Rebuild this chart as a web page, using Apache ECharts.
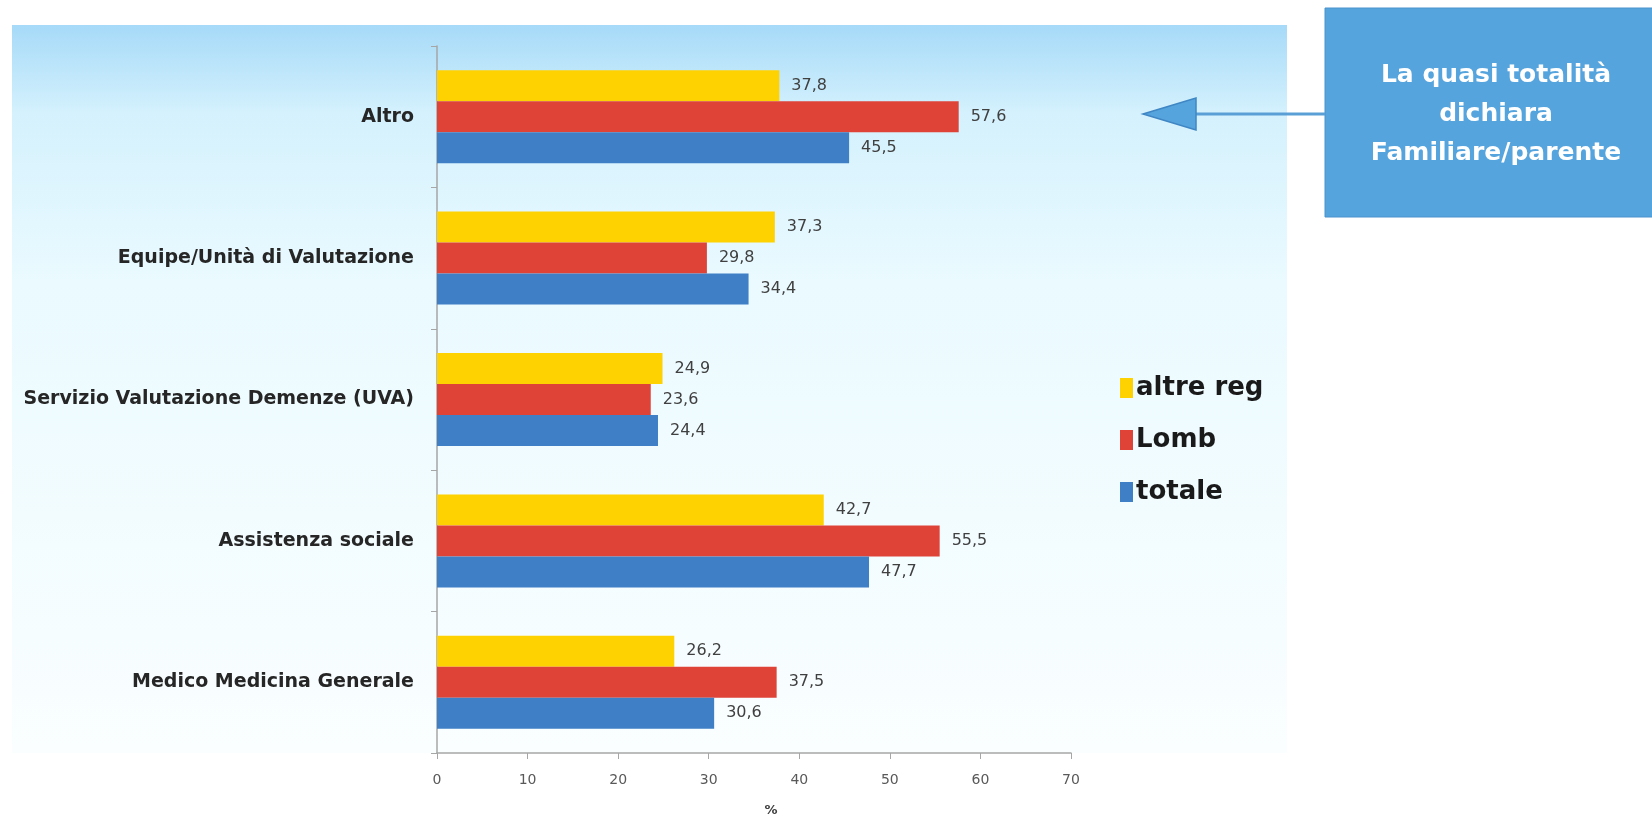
<!DOCTYPE html>
<html>
<head>
<meta charset="utf-8">
<script src="https://cdn.jsdelivr.net/npm/echarts@6/dist/echarts.min.js"></script>
<style>
html,body{margin:0;padding:0;background:#ffffff;}
#chart{width:1652px;height:818px;}
</style>
</head>
<body>
<div id="chart"></div>
<script>
const categories = ['Altro', 'Equipe/Unità di Valutazione', 'Servizio Valutazione Demenze (UVA)', 'Assistenza sociale', 'Medico Medicina Generale'];
const seriesNames = ['altre reg', 'Lomb', 'totale'];
const altreReg = [37.8, 37.3, 24.9, 42.7, 26.2];
const lomb = [57.6, 29.8, 23.6, 55.5, 37.5];
const totale = [45.5, 34.4, 24.4, 47.7, 30.6];
const xTicks = [0, 10, 20, 30, 40, 50, 60, 70];
const calloutLines = ['La quasi totalità', 'dichiara', 'Familiare/parente'];

const colors = ['#FED200', '#DF4338', '#3F7FC6'];
const chart = echarts.init(document.getElementById('chart'));

function mkSeries(name, data, color) {
  return {
    name: name, type: 'bar', data: data, barWidth: 31, barGap: '0%',
    itemStyle: { color: color },
    label: {
      show: true, position: 'right', distance: 12,
      fontFamily: 'DejaVu Sans', fontSize: 16, color: '#404040',
      formatter: p => String(p.value.toFixed(1)).replace('.', ',')
    },
    z: 3
  };
}

chart.setOption({
  animation: false,
  backgroundColor: '#ffffff',
  graphic: [
    { type: 'rect', z: -10, shape: { x: 12, y: 25, width: 1275, height: 728 },
      style: { fill: new echarts.graphic.LinearGradient(0, 0, 0, 1, [
        { offset: 0, color: '#a6daf8' },
        { offset: 0.12, color: '#d4f1fd' },
        { offset: 0.35, color: '#eafaff' },
        { offset: 1, color: '#fafeff' }
      ]) } },
    { type: 'rect', z: 10, shape: { x: 1325, y: 8, width: 340, height: 209 },
      style: { fill: '#55A4DD', stroke: '#4a92cc', lineWidth: 1 } },
    { type: 'text', z: 11, x: 1496, y: 56,
      style: { text: calloutLines.join('\n'), textAlign: 'center', align: 'center', fill: '#ffffff',
        font: 'bold 25px "DejaVu Sans"', lineHeight: 39 } },
    { type: 'line', z: 10, shape: { x1: 1190, y1: 114, x2: 1325, y2: 114 },
      style: { stroke: '#5a9fd6', lineWidth: 3 } },
    { type: 'polygon', z: 11, shape: { points: [[1143, 114], [1196, 98], [1196, 130]] },
      style: { fill: '#55A4DD', stroke: '#3f86c4', lineWidth: 1.5 } }
  ],
  legend: {
    orient: 'vertical', left: 1115, top: 370, itemGap: 26,
    itemWidth: 13, itemHeight: 20, icon: 'rect',
    data: seriesNames,
    textStyle: { fontFamily: 'DejaVu Sans', fontWeight: 'bold', fontSize: 26, color: '#1a1a1a', padding: [0, 0, 0, -2] }
  },
  grid: { left: 437, top: 46, width: 634, height: 707, containLabel: false, outerBoundsMode: 'none' },
  xAxis: {
    type: 'value', min: 0, max: 70, interval: 10,
    name: '%', nameLocation: 'middle', nameGap: 51,
    nameTextStyle: { fontFamily: 'DejaVu Sans', fontWeight: 'bold', fontSize: 13, color: '#404040', padding: [0, 0, 0, 34] },
    axisLine: { show: true, lineStyle: { color: '#a6a6a6', width: 1.5 } },
    axisTick: { show: true, length: 6, lineStyle: { color: '#a6a6a6' } },
    axisLabel: { margin: 20, fontFamily: 'DejaVu Sans', fontSize: 14, color: '#595959',
      formatter: v => xTicks.includes(v) ? String(v) : '' },
    splitLine: { show: false }
  },
  yAxis: {
    type: 'category', data: categories, inverse: true,
    axisLine: { show: true, lineStyle: { color: '#a6a6a6', width: 1.5 } },
    axisTick: { show: true, length: 6, lineStyle: { color: '#a6a6a6' } },
    axisLabel: { margin: 23, fontFamily: 'DejaVu Sans', fontWeight: 'bold', fontSize: 19, color: '#262626' }
  },
  series: [
    mkSeries(seriesNames[0], altreReg, colors[0]),
    mkSeries(seriesNames[1], lomb, colors[1]),
    mkSeries(seriesNames[2], totale, colors[2])
  ]
});
</script>
</body>
</html>
